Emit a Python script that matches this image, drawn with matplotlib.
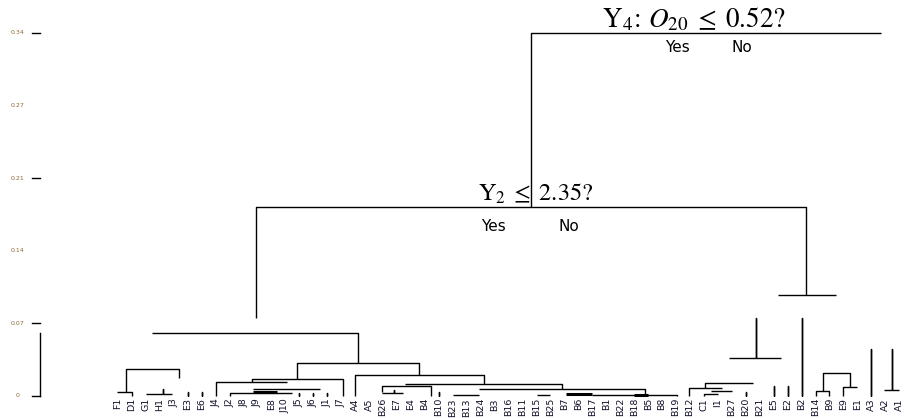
import matplotlib
matplotlib.use("Agg")
import matplotlib.pyplot as plt

plt.rcParams['mathtext.fontset'] = 'stix'

# leaf labels, left to right
leaves = ["F1", "D1", "G1", "H1", "J3", "E3", "E6", "J4", "J2", "J8", "J9", "E8",
          "J10", "J5", "J6", "J1", "J7", "A4", "A5", "B26", "E7", "E4", "B4", "B10",
          "B23", "B13", "B24", "B3", "B16", "B11", "B15", "B25", "B7", "B6", "B17",
          "B1", "B22", "B18", "B5", "B8", "B19", "B12", "C1", "I1", "B27", "B20",
          "B21", "E5", "E2", "B2", "B14", "B9", "E9", "E1", "A3", "A2", "A1"]

# links: left pos, right pos, merge height, left foot, right foot
link_left = [29.6, 9.9, 47.3, 45.7, 43.8, 49.0, 54.0, 55.5, 54.9, 50.5, 50.0, 52.0,
             47.0, 48.0, 42.1, 40.9, 42.5, 42.0, 45.0,
             2.4, 0.6, -0.1, 2.0, 3.2, 5.0, 6.0, 12.8, 9.6, 7.0, 9.7, 8.0,
             13.0, 14.0, 15.0, 17.0, 20.6, 25.9, 18.9, 18.9, 19.8, 24.0, 34.0, 30.0,
             23.0]
link_right = [54.7, 49.3, 51.5, 45.7, 47.5, 49.0, 54.0, 55.5, 56.0, 52.5, 51.0, 53.0,
              47.0, 48.0, 45.5, 43.3, 44.0, 43.0, 45.0,
              17.2, 4.4, 1.0, 3.9, 3.2, 5.0, 6.0, 21.6, 16.1, 12.1, 14.5, 12.5,
              13.0, 14.0, 15.0, 26.2, 31.8, 37.8, 22.4, 20.4, 19.8, 25.9, 40.1, 31.0,
              23.0]
link_top = [0.342, 0.178, 0.095, 0.074, 0.036, 0.074, 0.044, 0.044, 0.0057, 0.022, 0.0047, 0.0085,
            0.0094, 0.0094, 0.012, 0.0075, 0.0047, 0.0019, 0.0038,
            0.059, 0.025, 0.0038, 0.0019, 0.0066, 0.0038, 0.0038, 0.031, 0.016, 0.013, 0.0066, 0.0028,
            0.0025, 0.0025, 0.0025, 0.020, 0.011, 0.0066, 0.0094, 0.0028, 0.0057, 0.0009, 0.0009, 0.0009,
            0.0035]
foot_left = [0.178, 0.074, 0.095, 0.036, 0.036, 0.0, 0.0, 0.0057, 0.0057, 0.0047, 0.0, 0.0,
             0.0, 0.0, 0.0075, 0.0, 0.0047, 0.0, 0.0,
             0.059, 0.0038, 0.0038, 0.0019, 0.0019, 0.0, 0.0, 0.016, 0.013, 0.0, 0.0066, 0.0,
             0.0, 0.0, 0.0, 0.0, 0.011, 0.0066, 0.0038, 0.0028, 0.0028, 0.0009, 0.0009, 0.0009,
             0.0]
foot_right = [0.342, 0.095, 0.095, 0.036, 0.036, 0.0, 0.0, 0.0057, 0.0057, 0.0085, 0.0, 0.0085,
              0.0, 0.0, 0.012, 0.0075, 0.0047, 0.0019, 0.0,
              0.031, 0.017, 0.0, 0.0019, 0.0019, 0.0, 0.0, 0.020, 0.0, 0.013, 0.0066, 0.0028,
              0.0, 0.0, 0.0, 0.011, 0.0066, 0.0, 0.0, 0.0028, 0.0028, 0.0009, 0.0, 0.0009,
              0.0]

# short bold bars
thick_left = [9.7, 32.1, 37.0]
thick_right = [11.4, 34.0, 38.0]
thick_h = [0.0038, 0.0019, 0.0009]

tick_vals = [0.0, 0.0685, 0.137, 0.2055, 0.274, 0.3425]
tick_text = ["0", "0.07", "0.14", "0.21", "0.27", "0.34"]
tick_marked = [True, True, False, True, False, True]

fig = plt.figure(figsize=(9.09, 4.18), dpi=100)
ax = fig.add_axes([0, 0, 1, 1])
ax.set_xlim(-8.46, 56.7)
ax.set_ylim(-0.0208, 0.3736)
ax.axis("off")

for xl, xr, top, yl, yr in zip(link_left, link_right, link_top, foot_left, foot_right):
    ax.plot([xl, xl, xr, xr], [yl, top, top, yr], color="black", lw=1.0,
            solid_capstyle="butt")

for xl, xr, h in zip(thick_left, thick_right, thick_h):
    ax.plot([xl, xr], [h, h], color="black", lw=2.2, solid_capstyle="butt")

# leaf labels
for i, lab in enumerate(leaves):
    ax.text(i, -0.002, lab, rotation=90, ha="center", va="top", fontsize=6.8,
            color="#10102a")

# the odd little y axis
ax.plot([-5.59, -5.59], [0, 0.0594], color="black", lw=1.0)
for v, t, m in zip(tick_vals, tick_text, tick_marked):
    if m:
        ax.plot([-6.16, -5.59], [v, v], color="black", lw=1.0)
    ax.text(-7.2, v, t, fontsize=4.5, color="#8a6a3a", ha="center", va="center")

# split annotations
ax.text(41.3, 0.355, r"$\mathrm{Y}_4\!:\,O_{20}\;\leq\;0.52?$", fontsize=19.5,
        ha="center", va="center")
ax.text(40.1, 0.329, "Yes", fontsize=11, ha="center", va="center")
ax.text(44.7, 0.329, "No", fontsize=11, ha="center", va="center")
ax.text(29.9, 0.191, r"$\mathrm{Y}_2\;\leq\;2.35?$", fontsize=17.5, ha="center", va="center")
ax.text(26.9, 0.160, "Yes", fontsize=11, ha="center", va="center")
ax.text(32.3, 0.160, "No", fontsize=11, ha="center", va="center")

fig.savefig("out.png", dpi=100)
